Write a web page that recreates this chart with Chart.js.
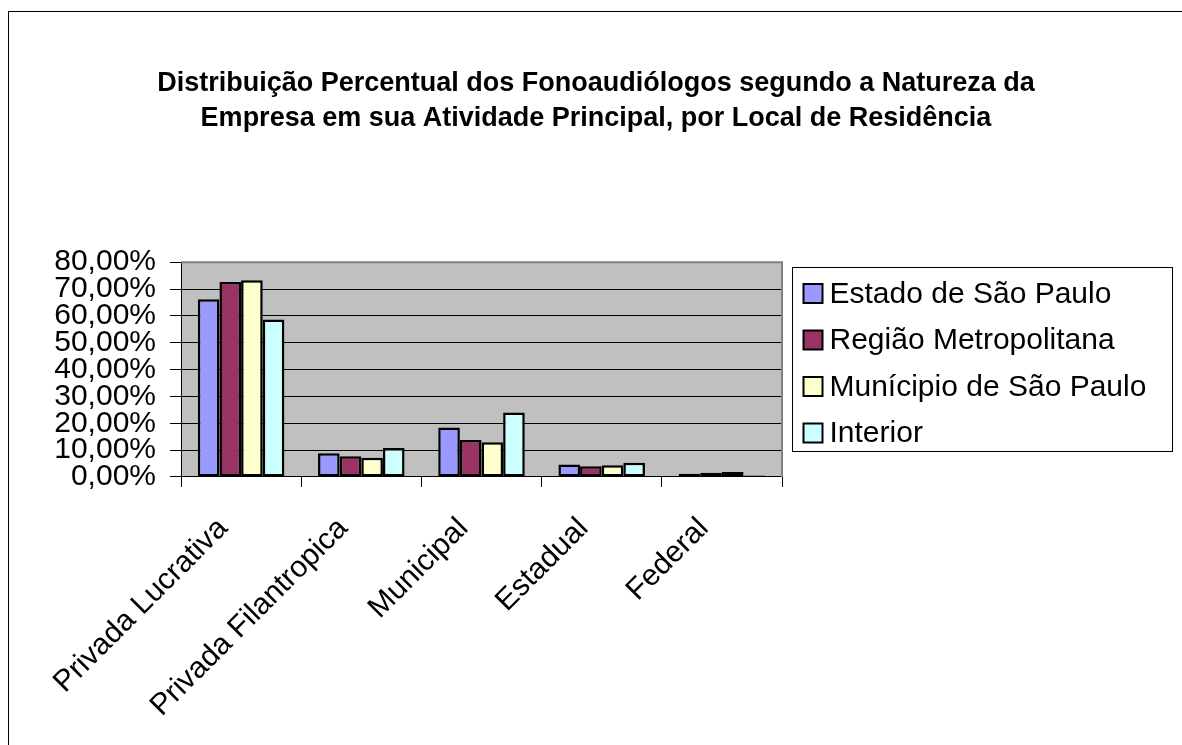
<!DOCTYPE html>
<html>
<head>
<meta charset="utf-8">
<title>Fonoaudiólogos - Natureza da Empresa</title>
<script src="https://cdn.jsdelivr.net/npm/chart.js@4.4.0/dist/chart.umd.min.js"></script>
<style>
  html, body { margin: 0; padding: 0; background: #fff; overflow: hidden; }
  #frame { position: absolute; left: 8px; top: 11px; width: 1300px; height: 900px; border: 1px solid #000; }
  #chart { position: absolute; left: 0; top: 0; }
</style>
</head>
<body>
<div id="frame"></div>
<canvas id="chart" width="1182" height="745"></canvas>
<script>
// categories and series (values in %)
const categories = ['Privada Lucrativa', 'Privada Filantropica', 'Municipal', 'Estadual', 'Federal'];
const seriesNames = ['Estado de São Paulo', 'Região Metropolitana', 'Munícipio de São Paulo', 'Interior'];
const estadoSP = [66.2, 8.8, 18.4, 4.7, 1.2];
const regiaoMetro = [72.6, 7.7, 13.8, 4.0, 1.6];
const municipioSP = [73.3, 7.2, 12.9, 4.4, 1.9];
const interior = [58.7, 10.8, 24.0, 5.3, 0.6];
const yMin = 0;
const yMax = 80;
const yStep = 10;
const titleLines = [
  'Distribuição Percentual dos Fonoaudiólogos segundo a Natureza da',
  'Empresa em sua Atividade Principal, por Local de Residência'
];
const colors = ['#9999FF', '#993366', '#FFFFCC', '#CCFFFF'];

const FONT = '"Liberation Sans", Arial, sans-serif';

// grey plot background + grey frame on top/right
const plotFrame = {
  id: 'plotFrame',
  beforeDraw(chart) {
    const { ctx, chartArea: a } = chart;
    ctx.save();
    ctx.fillStyle = '#C0C0C0';
    ctx.fillRect(a.left, a.top, a.width, a.height);
    ctx.restore();
  },
  afterDatasetsDraw(chart) {
    const { ctx, chartArea: a } = chart;
    ctx.save();
    ctx.strokeStyle = '#808080';
    ctx.lineWidth = 2;
    ctx.beginPath();
    ctx.moveTo(a.left, a.top);
    ctx.lineTo(a.right, a.top);
    ctx.lineTo(a.right, a.bottom);
    ctx.stroke();
    ctx.restore();
  }
};

// boxed legend to the right of the plot
const boxLegend = {
  id: 'boxLegend',
  afterDraw(chart) {
    const { ctx, chartArea: a } = chart;
    const x = Math.round(a.right) + 10.5;
    const y = Math.round(a.top) + 5.5;
    const w = 380, h = 184;
    ctx.save();
    ctx.fillStyle = '#fff';
    ctx.fillRect(x, y, w, h);
    ctx.strokeStyle = '#000';
    ctx.lineWidth = 1;
    ctx.strokeRect(x, y, w, h);
    ctx.font = '30px ' + FONT;
    ctx.textBaseline = 'middle';
    chart.data.datasets.forEach((ds, i) => {
      const cy = y + 26 + i * 46.5;
      ctx.fillStyle = ds.backgroundColor;
      ctx.fillRect(x + 11, cy - 9.5, 19, 19);
      ctx.lineWidth = 2;
      ctx.strokeStyle = '#000';
      ctx.strokeRect(x + 11, cy - 9.5, 19, 19);
      ctx.fillStyle = '#000';
      ctx.fillText(ds.label, x + 37, cy + 1);
    });
    ctx.restore();
  }
};

const seriesData = [estadoSP, regiaoMetro, municipioSP, interior];

new Chart(document.getElementById('chart'), {
  type: 'bar',
  data: {
    labels: categories,
    datasets: seriesNames.map((name, i) => ({
      label: name,
      data: seriesData[i],
      backgroundColor: colors[i],
      borderColor: '#000',
      borderWidth: 2.5,
      borderSkipped: false,
      categoryPercentage: 0.72,
      barPercentage: 1
    }))
  },
  options: {
    responsive: false,
    animation: false,
    layout: { padding: { left: 18, right: 8, top: 0, bottom: 0 } },
    plugins: {
      legend: { display: false },
      tooltip: { enabled: false },
      title: {
        display: true,
        text: titleLines,
        color: '#000',
        font: { family: FONT, size: 27, weight: 'bold', lineHeight: 1.3 },
        padding: { top: 66, bottom: 126 }
      }
    },
    scales: {
      x: {
        grid: { drawOnChartArea: false, color: '#000', tickColor: '#000', tickLength: 10, offset: true },
        border: { color: '#000', width: 1 },
        ticks: {
          color: '#000',
          font: { family: FONT, size: 30 },
          minRotation: 45,
          maxRotation: 45,
          autoSkip: false,
          padding: 24,
          labelOffset: -18
        },
        afterFit: s => { s.height = 268; }
      },
      y: {
        min: yMin,
        max: yMax,
        grid: { color: '#000', tickColor: '#000', tickLength: 11, lineWidth: 1 },
        border: { color: '#000', width: 1 },
        ticks: {
          stepSize: yStep,
          autoSkip: false,
          color: '#000',
          font: { family: FONT, size: 30, lineHeight: 1 },
          padding: 14,
          callback: v => v.toFixed(2).replace('.', ',') + '%'
        },
        afterFit: s => { s.width = 163; }
      },
      yRight: {
        type: 'linear',
        position: 'right',
        display: true,
        grid: { display: false },
        border: { display: false },
        ticks: { display: false },
        afterFit: s => { s.width = 392; }
      }
    }
  },
  plugins: [plotFrame, boxLegend]
});
</script>
</body>
</html>
